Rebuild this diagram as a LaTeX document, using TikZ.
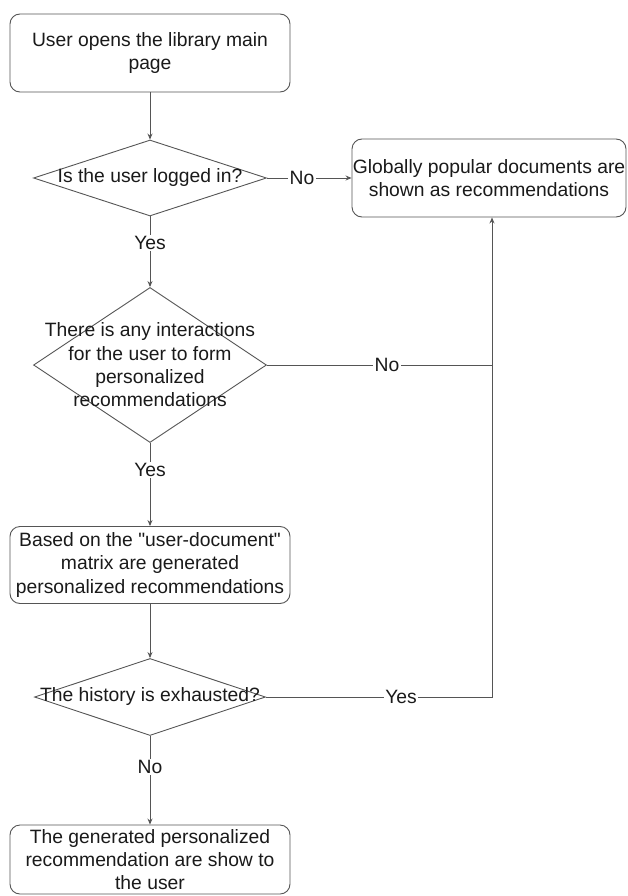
\documentclass[tikz,border=0pt]{standalone}
\usepackage{fontspec}
\newfontfamily\diafont{Liberation Sans}
\usetikzlibrary{shapes.geometric,arrows.meta}
\definecolor{linec}{HTML}{555555}
\definecolor{txtc}{HTML}{1A1A1A}
\tikzset{
  base/.style={font=\diafont\fontsize{19.3}{23.3}\selectfont, text=txtc},
  proc/.style={base, draw=linec, line width=0.9pt, rounded corners=10pt, align=center, inner sep=0pt},
  dia/.style={draw=linec, line width=0.9pt, diamond, inner sep=0pt},
  dtext/.style={base, align=center, inner sep=0pt},
  lbl/.style={base, fill=white, inner sep=1.5pt},
  conn/.style={draw=linec, line width=0.9pt},
  arr/.style={conn, -{Stealth[length=6pt,width=5pt]}}
}
\begin{document}
\begin{tikzpicture}[x=1pt,y=-1pt]
\useasboundingbox (0,0) rectangle (627,896);
\fill[white] (0,0) rectangle (627,896);
% boxes
\node[proc, minimum width=280, minimum height=78] (start) at (150,53) {User opens the library main\\page};
\node[proc, minimum width=274, minimum height=78] (glob) at (489,178) {Globally popular documents are\\shown as recommendations};
\node[proc, minimum width=280, minimum height=77] (based) at (150,565) {Based on the "user-document"\\matrix are generated\\personalized recommendations};
\node[proc, minimum width=280, minimum height=69] (final) at (150,859.5) {The generated personalized\\recommendation are show to\\the user};
% diamonds
\node[dia, minimum width=233, minimum height=76] (d1) at (150,178) {};
\node[dtext] at (d1) {Is the user logged in?};
\node[dia, minimum width=233, minimum height=155] (d2) at (150,365) {};
\node[dtext] at (d2) {There is any interactions\\for the user to form\\personalized\\recommendations};
\node[dia, minimum width=231, minimum height=77] (d3) at (150,697) {};
\node[dtext] at (d3) {The history is exhausted?};
% junction coordinates
\coordinate (j2) at (492,365);
\coordinate (j3) at (492,697);
% connectors
\draw[arr] (start.south) -- (d1.north);
\draw[arr] (d1.east) -- (glob.west);
\node[lbl] at (302,178) {No};
\draw[arr] (d1.south) -- (d2.north);
\node[lbl] at (150,243) {Yes};
\draw[conn] (d2.east) -- (j2);
\node[lbl] at (387,365) {No};
\draw[arr] (d2.south) -- (based.north);
\node[lbl] at (150,470) {Yes};
\draw[arr] (based.south) -- (d3.north);
\draw[arr] (d3.east) -- (j3) -- (glob.south -| j3);
\node[lbl] at (401,697) {Yes};
\draw[arr] (d3.south) -- (final.north);
\node[lbl] at (150,767) {No};
\end{tikzpicture}
\end{document}
